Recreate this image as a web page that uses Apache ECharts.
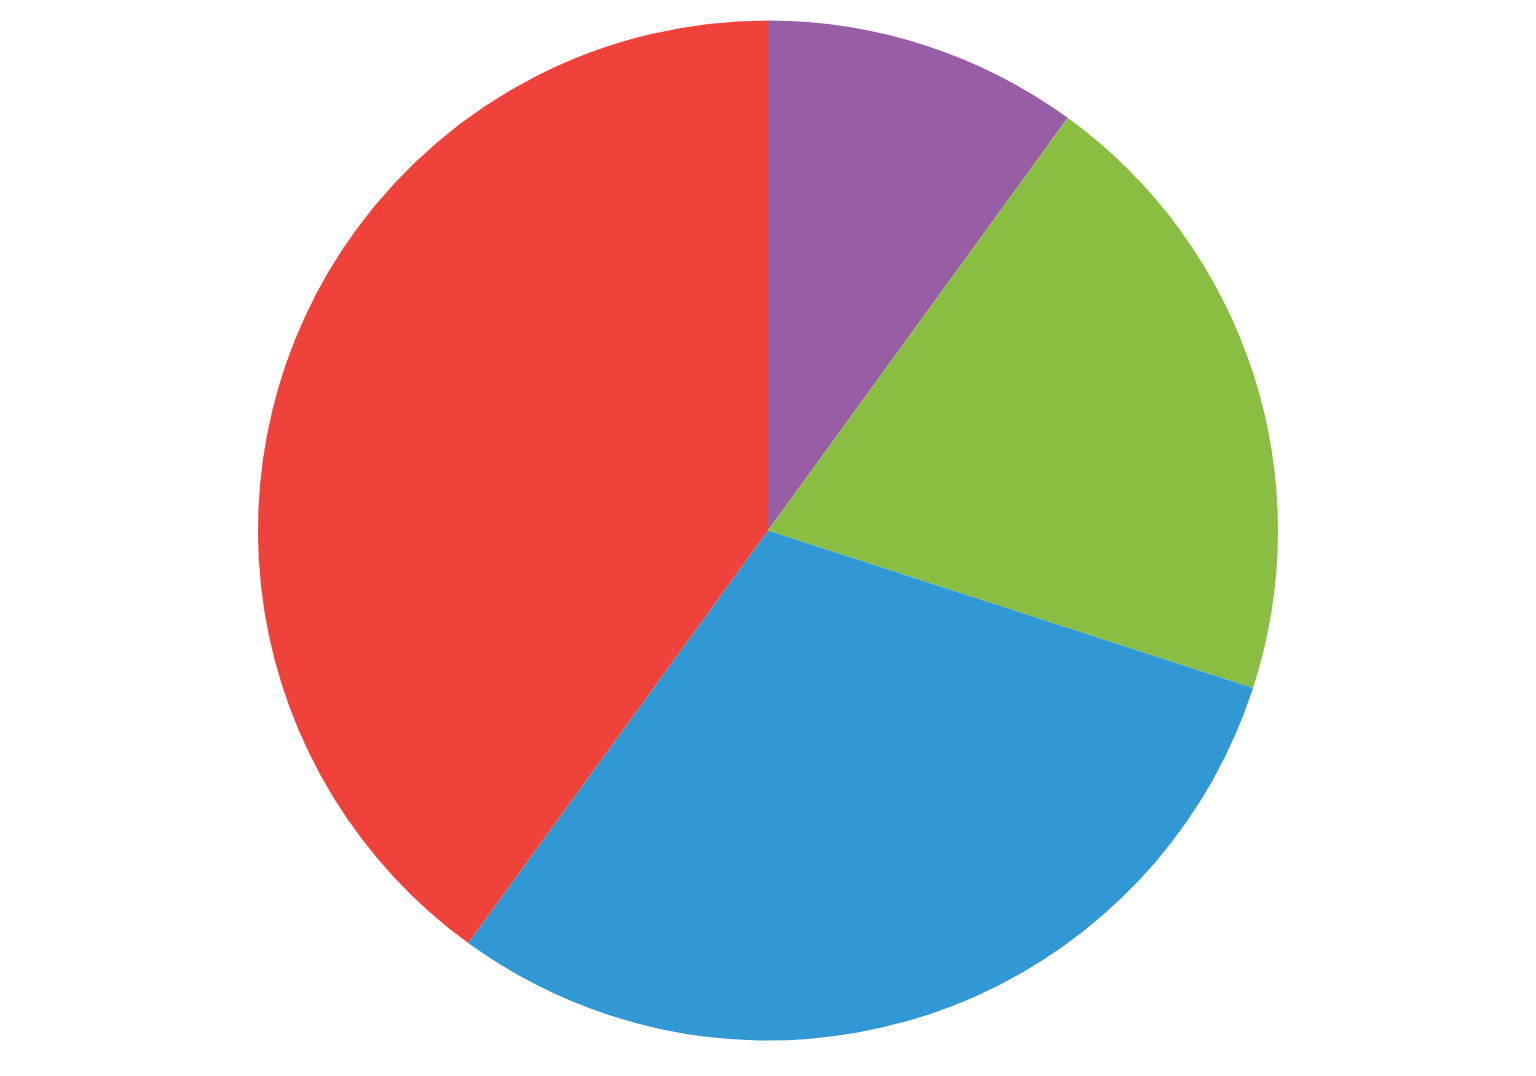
<!DOCTYPE html>
<html><head><meta charset="utf-8">
<script src="https://cdn.jsdelivr.net/npm/echarts@6/dist/echarts.min.js"></script>
<style>html,body{margin:0;padding:0;background:#fff}#c{width:1536px;height:1076px}</style>
</head><body><div id="c"></div>
<script>
const categories = ['A', 'B', 'C', 'D'];
const values = [10, 20, 30, 40];
const colors = ['#975EA5', '#8ABE43', '#2F98D5', '#EF423B'];
const chart = echarts.init(document.getElementById('c'));
chart.setOption({
  animation: false,
  series: [{
    type: 'pie',
    center: ['50%', '49.3%'],
    radius: ['0%', '94.8%'],
    startAngle: 90,
    clockwise: true,
    label: { show: false },
    labelLine: { show: false },
    itemStyle: { borderWidth: 0 },
    data: categories.map((c, i) => ({ name: c, value: values[i], itemStyle: { color: colors[i] } }))
  }]
});
</script></body></html>
